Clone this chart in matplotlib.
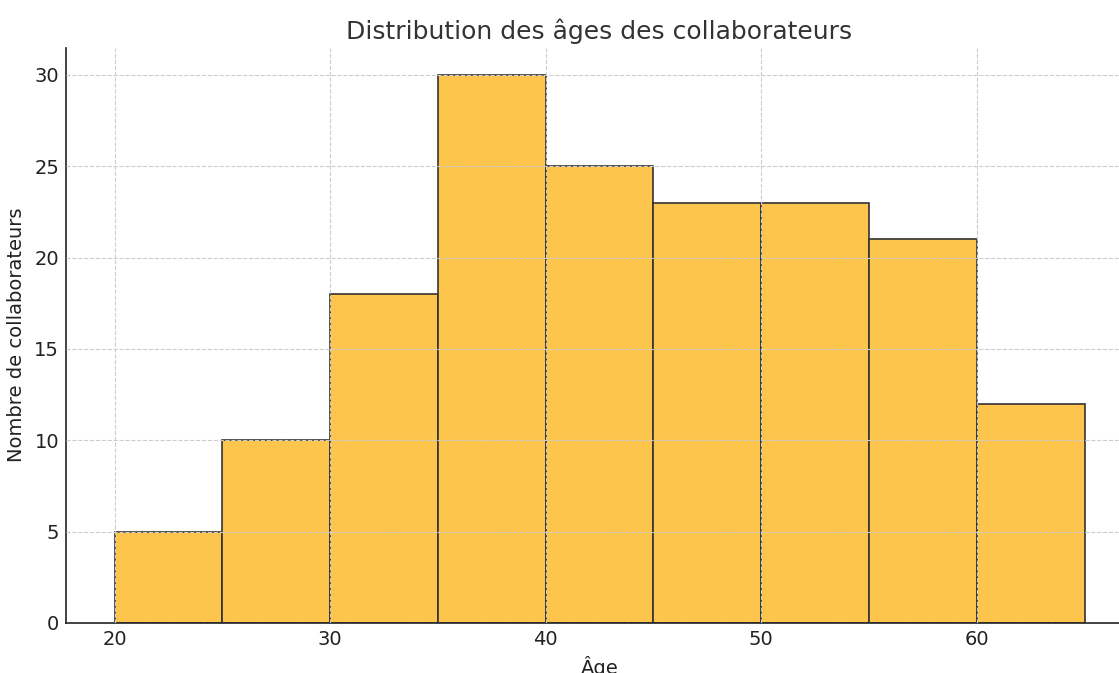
import matplotlib.pyplot as plt
import numpy as np

bin_edges = [20, 25, 30, 35, 40, 45, 50, 55, 60, 65]
counts = [5, 10, 18, 30, 25, 23, 23, 21, 12]

fig = plt.figure(figsize=(11.19, 6.73), dpi=100)
ax = fig.add_axes([66 / 1119, 50 / 673, 1067 / 1119, 575.5 / 673])

ax.hist(bin_edges[:-1], bins=bin_edges, weights=counts, color='#FDC54C',
        edgecolor='#333333', linewidth=1.2)

ax.set_xlim(17.75, 67.25)
ax.set_ylim(0, 31.5)
ax.set_xticks([20, 30, 40, 50, 60])
ax.set_yticks([0, 5, 10, 15, 20, 25, 30])

ax.grid(True, linestyle='--', linewidth=0.8, color='#cccccc')
ax.set_axisbelow(False)

ax.spines['top'].set_visible(False)
ax.spines['right'].set_visible(False)
ax.spines['left'].set_color('#222222')
ax.spines['bottom'].set_color('#222222')
ax.spines['left'].set_linewidth(1.2)
ax.spines['bottom'].set_linewidth(1.2)

ax.tick_params(axis='both', labelsize=14, colors='#222222', length=0, pad=5)
ax.set_title('Distribution des âges des collaborateurs', fontsize=18, color='#333333', pad=6)
ax.set_xlabel('Âge', fontsize=14, color='#222222', labelpad=5)
ax.set_ylabel('Nombre de collaborateurs', fontsize=14, color='#222222', labelpad=6)

plt.savefig('out.png', dpi=100)
